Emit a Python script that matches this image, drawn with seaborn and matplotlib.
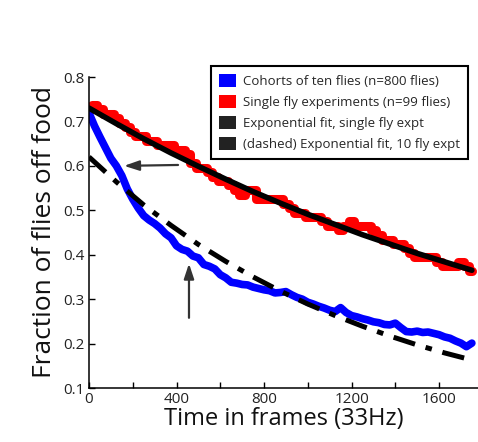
import numpy as np
import pandas as pd
import matplotlib
matplotlib.use("Agg")
import matplotlib.pyplot as plt
import seaborn as sns
from matplotlib.patches import Patch

# ---------------- data ----------------
frames = list(range(0, 1751, 25))

cohort_ten = [0.719, 0.690, 0.665, 0.641, 0.617, 0.600, 0.578, 0.548, 0.525, 0.505,
              0.488, 0.478, 0.470, 0.460, 0.447, 0.438, 0.420, 0.412, 0.408, 0.397,
              0.393, 0.378, 0.374, 0.368, 0.355, 0.348, 0.338, 0.336, 0.333, 0.332,
              0.327, 0.324, 0.321, 0.319, 0.314, 0.315, 0.317, 0.310, 0.304, 0.300,
              0.293, 0.289, 0.284, 0.280, 0.275, 0.272, 0.281, 0.270, 0.263, 0.260,
              0.256, 0.253, 0.249, 0.247, 0.243, 0.242, 0.246, 0.236, 0.227, 0.226,
              0.228, 0.225, 0.226, 0.223, 0.220, 0.215, 0.212, 0.206, 0.201, 0.193,
              0.201]

single_fly = [0.727, 0.737, 0.727, 0.717, 0.717, 0.707, 0.697, 0.687, 0.677, 0.667,
              0.667, 0.657, 0.657, 0.646, 0.646, 0.646, 0.636, 0.636, 0.626, 0.606,
              0.596, 0.596, 0.586, 0.576, 0.566, 0.566, 0.556, 0.545, 0.535, 0.545,
              0.545, 0.525, 0.525, 0.525, 0.525, 0.525, 0.515, 0.505, 0.495, 0.495,
              0.485, 0.485, 0.485, 0.475, 0.465, 0.465, 0.455, 0.465, 0.475, 0.465,
              0.465, 0.465, 0.455, 0.444, 0.434, 0.434, 0.424, 0.424, 0.414, 0.404,
              0.394, 0.394, 0.394, 0.394, 0.384, 0.374, 0.374, 0.374, 0.384, 0.374,
              0.364]

fit_frames = list(range(0, 1751, 125))
fit_single = [0.730, 0.695, 0.661, 0.629, 0.599, 0.570, 0.542, 0.516,
              0.491, 0.468, 0.445, 0.424, 0.403, 0.384, 0.365]
fit_ten = [0.620, 0.564, 0.512, 0.466, 0.423, 0.385, 0.350, 0.318,
           0.289, 0.263, 0.239, 0.217, 0.197, 0.179, 0.163]

legend_labels = ["Cohorts of ten flies (n=800 flies)",
                 "Single fly experiments (n=99 flies)",
                 "Exponential fit, single fly expt",
                 "(dashed) Exponential fit, 10 fly expt"]

xticks = [0, 200, 400, 600, 800, 1000, 1200, 1400, 1600]
xticklabels = ["0", "", "400", "", "800", "", "1200", "", "1600"]
yticks = [0.1, 0.2, 0.3, 0.4, 0.5, 0.6, 0.7, 0.8]

# arrows: (tail_x, tail_y, tip_x, tip_y) in data units
arrow_left = (407, 0.602, 160, 0.600)
arrow_up = (457, 0.258, 457, 0.380)

# ---------------- plot ----------------
sns.set_style("ticks")
plt.rcParams["font.family"] = ["Open Sans", "DejaVu Sans"]

fig = plt.figure(figsize=(4.78, 4.42), dpi=100)
ax = fig.add_axes([89 / 478, 54 / 442, 389 / 478, 311 / 442])

df_blue = pd.DataFrame({"frame": frames, "value": cohort_ten})
df_red = pd.DataFrame({"frame": frames, "value": single_fly})
df_fs = pd.DataFrame({"frame": fit_frames, "value": fit_single})
df_ft = pd.DataFrame({"frame": fit_frames, "value": fit_ten})

sns.lineplot(data=df_red, x="frame", y="value", ax=ax, color="#ff0000",
             lw=6.5, drawstyle="steps-mid", solid_joinstyle="round",
             solid_capstyle="round")
sns.lineplot(data=df_blue, x="frame", y="value", ax=ax, color="#0000ff",
             lw=5.5, solid_joinstyle="round", solid_capstyle="round")
sns.lineplot(data=df_fs, x="frame", y="value", ax=ax, color="black", lw=4)
sns.lineplot(data=df_ft, x="frame", y="value", ax=ax, color="black", lw=3.6,
             linestyle=(0, (4.5, 2.2, 1.3, 2.2)), dash_capstyle="butt")

for (tx, ty, hx, hy) in (arrow_left, arrow_up):
    ax.annotate("", xy=(hx, hy), xytext=(tx, ty),
                arrowprops=dict(arrowstyle="-|>,head_length=0.9,head_width=0.3",
                                color="#333333", lw=1.6, shrinkA=0, shrinkB=0))

ax.set_xlim(0, 1778)
ax.set_ylim(0.1, 0.8)
ax.set_xticks(xticks)
ax.set_xticklabels(xticklabels)
ax.set_yticks(yticks)
ax.set_yticklabels([f"{v:.1f}" for v in yticks])
ax.tick_params(direction="in", length=4, width=1, labelsize=11,
               colors="black", labelcolor="#222222", pad=3)
for s in ("top", "right"):
    ax.spines[s].set_visible(False)
for s in ("left", "bottom"):
    ax.spines[s].set_linewidth(1.1)
    ax.spines[s].set_color("black")

ax.set_xlabel("Time in frames (33Hz)", fontsize=17, color="#111111", labelpad=0)
ax.set_ylabel("Fraction of flies off food", fontsize=19, color="#111111", labelpad=5)

handles = [Patch(facecolor="#0000ff", edgecolor="none"),
           Patch(facecolor="#ff0000", edgecolor="none"),
           Patch(facecolor="#222222", edgecolor="none"),
           Patch(facecolor="#222222", edgecolor="none")]
leg = ax.legend(handles, legend_labels, loc="upper right",
                bbox_to_anchor=(0.974, 1.035), borderaxespad=0,
                fontsize=9.5, frameon=True, fancybox=False,
                handlelength=1.3, handleheight=1.1, handletextpad=0.5,
                labelspacing=0.55, borderpad=0.6)
leg.get_frame().set_edgecolor("black")
leg.get_frame().set_linewidth(1.5)
leg.get_frame().set_alpha(1)

fig.savefig("out.png", dpi=100)
